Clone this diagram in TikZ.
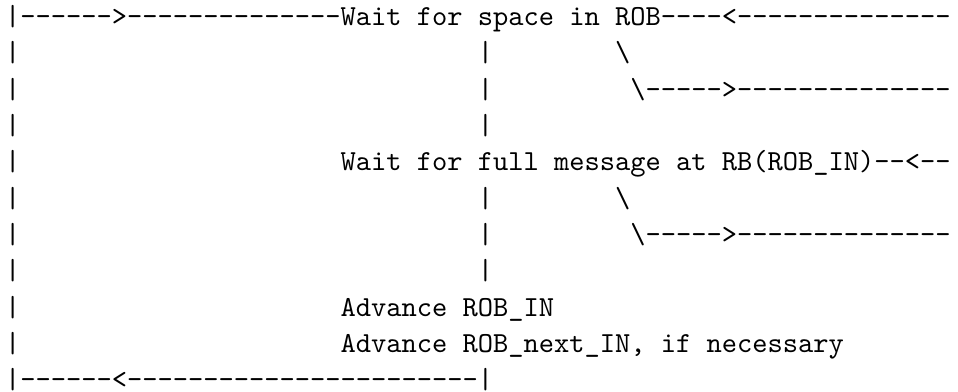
\documentclass[tikz,border=0pt]{standalone}
\usepackage{fontspec}
\usepackage{tikz}
\tikzset{
  tt/.style={font=\ttfamily,anchor=base west,inner sep=0pt,outer sep=0pt}
}
\begin{document}
\begin{tikzpicture}[x=5.25pt,y=-12.5pt]
  \useasboundingbox (-1.76pt,8.78pt) rectangle (328pt,-126.1pt);
  \node[tt] (top) at (0,0) {|------>--------------Wait for space in ROB----<--------------};
  \node[tt] (slA) at (40,1) {\textbackslash};
  \node[tt] (outA) at (41,2) {\textbackslash----->--------------};
  \node[tt] (full) at (22,4) {Wait for full message at RB(ROB\_IN)--<--};
  \node[tt] (slB) at (40,5) {\textbackslash};
  \node[tt] (outB) at (41,6) {\textbackslash----->--------------};
  \node[tt] (adv) at (22,8) {Advance ROB\_IN};
  \node[tt] (advnext) at (22,9) {Advance ROB\_next\_IN, if necessary};
  \node[tt] (bot) at (0,10) {|------<-----------------------|};
  % side bars
  \foreach \r in {1,...,9} \node[tt] (left\r) at (0,\r) {|};
  \foreach \r in {1,2,3,5,6,7} \node[tt] (mid\r) at (31,\r) {|};
\end{tikzpicture}
\end{document}
